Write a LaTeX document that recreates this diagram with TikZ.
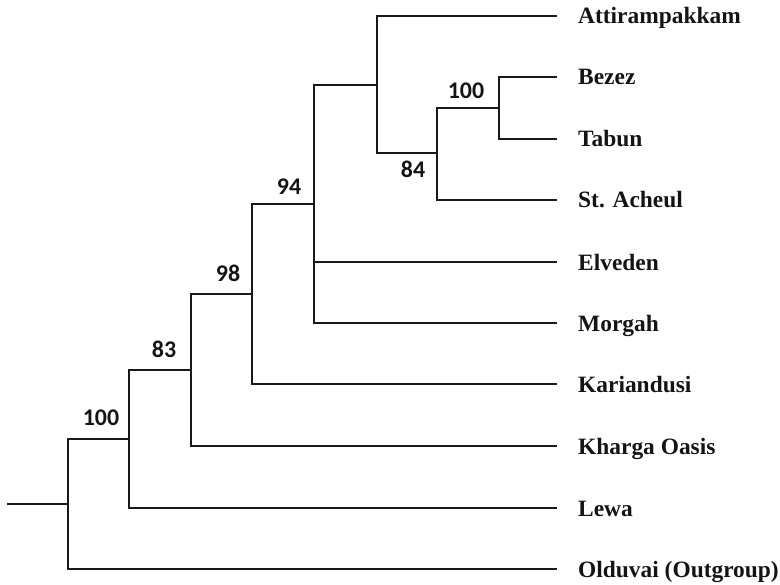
\documentclass[tikz,border=0pt]{standalone}
\usepackage{fontspec}
\setmainfont{Liberation Serif}
\newfontfamily\supfont{Carlito}
\begin{document}
\begin{tikzpicture}[x=1bp,y=-1bp,
  branch/.style={line width=1.4bp,draw=black!90},
  taxon/.style={font=\fontsize{23.5}{26}\selectfont\bfseries,anchor=base west,inner sep=0pt,text=black!92},
  support/.style={font=\supfont\fontsize{24}{26}\selectfont\bfseries,anchor=base,inner sep=0pt,text=black!92}]
\useasboundingbox (0,0) rectangle (780,585);

% internal nodes (joining point of each clade)
\coordinate (stem) at (7,504);
\coordinate (root) at (68,504);
\coordinate (c100a) at (129,439);
\coordinate (c83) at (191,370);
\coordinate (c98) at (252,294);
\coordinate (c94) at (314,204);
\coordinate (cA) at (377,85);
\coordinate (c84) at (437,153);
\coordinate (c100b) at (499,108);

% leaf tips
\coordinate (tAtt) at (557,16);
\coordinate (tBez) at (557,77);
\coordinate (tTab) at (557,139);
\coordinate (tAch) at (557,200);
\coordinate (tElv) at (557,262);
\coordinate (tMor) at (557,323);
\coordinate (tKar) at (557,384);
\coordinate (tKha) at (557,446);
\coordinate (tLew) at (557,508);
\coordinate (tOld) at (557,569);

% taxon labels
\node[taxon] (lAtt) at (578,24) {Attirampakkam};
\node[taxon] (lBez) at (578,85) {Bezez};
\node[taxon] (lTab) at (578,147) {Tabun};
\node[taxon] (lAch) at (578,208) {St. Acheul};
\node[taxon] (lElv) at (578,270) {Elveden};
\node[taxon] (lMor) at (578,331) {Morgah};
\node[taxon] (lKar) at (578,392) {Kariandusi};
\node[taxon] (lKha) at (578,454) {Kharga Oasis};
\node[taxon] (lLew) at (578,516) {Lewa};
\node[taxon] (lOld) at (578,577) {Olduvai (Outgroup)};

% bootstrap support values
\node[support] (s100a) at (101,425) {100};
\node[support] (s83) at (164,357) {83};
\node[support] (s98) at (228,281) {98};
\node[support] (s94) at (289,195) {94};
\node[support] (s84) at (413,178) {84};
\node[support] (s100b) at (466,99) {100};

% branches
\draw[branch] (stem) -- (root);
\draw[branch] (root) |- (c100a);
\draw[branch] (root) |- (tOld);
\draw[branch] (c100a) |- (c83);
\draw[branch] (c100a) |- (tLew);
\draw[branch] (c83) |- (c98);
\draw[branch] (c83) |- (tKha);
\draw[branch] (c98) |- (c94);
\draw[branch] (c98) |- (tKar);
\draw[branch] (c94) |- (cA);
\draw[branch] (c94) |- (tElv);
\draw[branch] (c94) |- (tMor);
\draw[branch] (cA) |- (tAtt);
\draw[branch] (cA) |- (c84);
\draw[branch] (c84) |- (c100b);
\draw[branch] (c84) |- (tAch);
\draw[branch] (c100b) |- (tBez);
\draw[branch] (c100b) |- (tTab);
\end{tikzpicture}
\end{document}
